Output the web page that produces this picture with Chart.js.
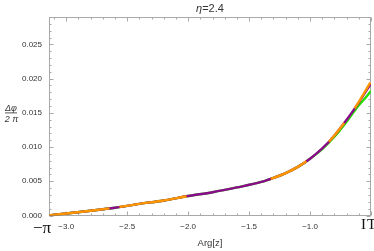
<!DOCTYPE html>
<html><head><meta charset="utf-8">
<script src="https://cdn.jsdelivr.net/npm/chart.js@4.4.1/dist/chart.umd.min.js"></script>
<style>html,body{margin:0;padding:0;background:#fff;}canvas{display:block;}</style>
</head><body>
<canvas id="c" width="374" height="251"></canvas>
<script>
// Data
const argZ       = [-3.1416,-3.0,-2.8,-2.6,-2.4,-2.2,-2.0,-1.8,-1.6,-1.4,-1.3,-1.2,-1.1,-1.0,-0.9,-0.8,-0.7,-0.6,-0.55,-0.5];
const orangeVals = [0,0.0003,0.0007,0.00114,0.0017,0.0022,0.00285,0.0034,0.0041,0.0049,0.0055,0.0062,0.0071,0.0083,0.0098,0.0117,0.0140,0.0166,0.0181,0.0196];
const purpleVals = [0,0.0003,0.0007,0.00114,0.0017,0.0022,0.00285,0.0034,0.0041,0.0049,0.0055,0.0062,0.0071,0.0083,0.0098,0.0117,0.0140,0.0165,0.0179,0.0193];
const greenVals  = [0,0.0003,0.0007,0.00114,0.0017,0.0022,0.00285,0.0034,0.0041,0.0049,0.0055,0.0062,0.0071,0.0083,0.0097,0.0115,0.0137,0.0161,0.0171,0.0182];
const yTicks = [0,0.005,0.010,0.015,0.020,0.025];
const xTicks = [-3.0,-2.5,-2.0,-1.5,-1.0];
const xMin = -Math.PI, xMax = -0.5, yMin = 0, yMax = 0.029;

const pts = vals => argZ.map((x,i)=>({x, y: vals[i]}));

const framePlugin = {
  id: 'frame',
  beforeDatasetsDraw(chart){
    const {ctx, chartArea:a, scales:{x, y}} = chart;
    ctx.save();
    ctx.strokeStyle = '#a8a8a8';
    ctx.lineWidth = 1;
    const L = Math.round(a.left)+0.5, R = Math.round(a.right)-0.5, T = Math.round(a.top)+0.5, B = Math.round(a.bottom)-0.5;
    ctx.strokeRect(L, T, R-L, B-T);
    ctx.beginPath();
    for (let k = -31; k <= -5; k++) {
      const v = k/10;
      const major = (k % 5 === 0);
      const len = major ? 4 : 2;
      const px = Math.round(x.getPixelForValue(v)) + 0.5;
      ctx.moveTo(px, B); ctx.lineTo(px, B - len);
      ctx.moveTo(px, T); ctx.lineTo(px, T + len);
    }
    for (let k = 0; k <= 29; k++) {
      const v = k/1000;
      const major = (k % 5 === 0);
      const len = major ? 4 : 2;
      const py = Math.round(y.getPixelForValue(v)) + 0.5;
      ctx.moveTo(L, py); ctx.lineTo(L + len, py);
      ctx.moveTo(R, py); ctx.lineTo(R - len, py);
    }
    ctx.stroke();
    ctx.restore();
  },
  afterDraw(chart){
    const {ctx, chartArea:a} = chart;
    ctx.save();
    ctx.fillStyle = '#333';
    ctx.textBaseline = 'middle';
    const cx = (a.left + a.right)/2;
    ctx.font = 'italic 11px "Liberation Sans"';
    const w1 = ctx.measureText('η').width;
    ctx.font = '11px "Liberation Sans"';
    const w2 = ctx.measureText('=2.4').width;
    let sx = cx - (w1+w2)/2;
    ctx.textAlign = 'left';
    ctx.font = 'italic 11px "Liberation Sans"';
    ctx.fillText('η', sx, 9);
    ctx.font = '11px "Liberation Sans"';
    ctx.fillText('=2.4', sx + w1, 9);
    ctx.textAlign = 'center';
    ctx.font = 'italic 9px "Liberation Sans"';
    ctx.fillText('Δφ', 11, 108);
    ctx.fillText('2 π', 11.5, 119);
    ctx.fillRect(5, 112.5, 12, 0.8);
    ctx.font = '9.5px "Liberation Sans"';
    ctx.fillText('Arg[z]', cx, 243.5);
    ctx.fillStyle = '#111';
    ctx.font = '17px "Liberation Serif"';
    ctx.fillText('−π', 42, 229);
    ctx.textAlign = 'left';
    ctx.font = '15px "Liberation Serif"';
    try { ctx.letterSpacing = '1px'; } catch(e) {}
    ctx.fillText('IT', 361, 225.5);
    ctx.restore();
  }
};

new Chart(document.getElementById('c'), {
  type: 'line',
  data: {
    datasets: [
      { label:'orange', data: pts(orangeVals), borderColor:'#ff9500', borderWidth:2.4, pointRadius:0,
        cubicInterpolationMode:'monotone', borderDash:[61,10,68,86,40,30,24,18,30,14,200,0], order:0, fill:false },
      { label:'purple', data: pts(purpleVals), borderColor:'#8a0a8a', borderWidth:2.4, pointRadius:0,
        cubicInterpolationMode:'monotone', order:1, fill:false },
      { label:'green', data: pts(greenVals), borderColor:'#22e000', borderWidth:2.4, pointRadius:0,
        cubicInterpolationMode:'monotone', order:2, fill:false }
    ]
  },
  options: {
    responsive:false, animation:false, devicePixelRatio:1,
    layout:{ padding:{ top:17, right:3, left:0, bottom:0 } },
    plugins:{ legend:{display:false}, tooltip:{enabled:false}, title:{display:false} },
    scales:{
      x:{ type:'linear', min:xMin, max:xMax,
        afterFit: s => { s.height = 35.5; },
        afterBuildTicks: s => { s.ticks = xTicks.map(v=>({value:v})); },
        grid:{ display:false, drawTicks:false }, border:{ display:false },
        ticks:{ padding:6, color:'#333', font:{ family:'"Liberation Sans"', size:8 },
          callback: v => (v<0?'−':'') + Math.abs(v).toFixed(1), maxRotation:0, autoSkip:false } },
      y:{ type:'linear', min:yMin, max:yMax,
        afterFit: s => { s.width = 49; },
        afterBuildTicks: s => { s.ticks = yTicks.map(v=>({value:v})); },
        grid:{ display:false, drawTicks:false }, border:{ display:false },
        ticks:{ padding:7, color:'#333', font:{ family:'"Liberation Sans"', size:8 },
          callback: v => v.toFixed(3), autoSkip:false } }
    }
  },
  plugins:[framePlugin]
});
</script>
</body></html>
